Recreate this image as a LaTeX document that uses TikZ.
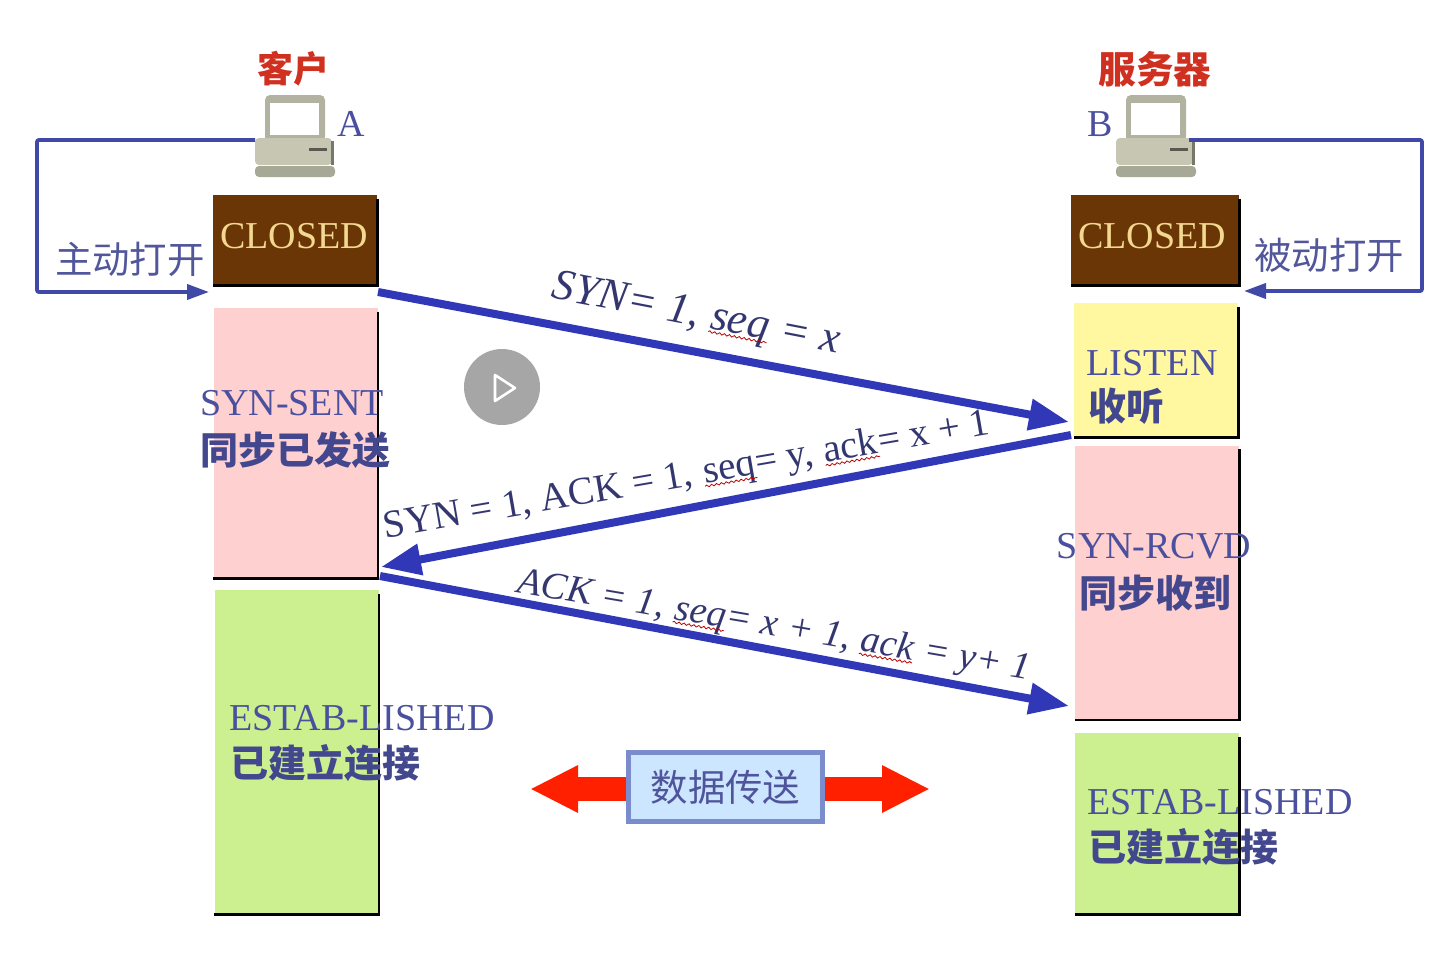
\documentclass[tikz,border=0pt]{standalone}
\usepackage{fontspec}
\usepackage{xcolor}
\usepackage{tikz}
\usetikzlibrary{arrows.meta, decorations.pathmorphing}
\setmainfont{Liberation Serif}
\newfontfamily\cjk{Noto Sans CJK SC}
\definecolor{labelblue}{HTML}{4A4F9E}
\definecolor{arrowblue}{HTML}{3038B8}
\definecolor{openblue}{HTML}{4048A8}
\definecolor{closedbrown}{HTML}{6B3606}
\definecolor{closedtext}{HTML}{F2D890}
\definecolor{pcgrey}{HTML}{C6C6B2}
\definecolor{syncpink}{HTML}{FFD0D0}
\definecolor{estabgreen}{HTML}{CCF090}
\definecolor{listenyellow}{HTML}{FFF8A0}
\definecolor{datafill}{HTML}{CCE6FF}
\definecolor{dataline}{HTML}{7A8CCC}
\definecolor{datared}{HTML}{FF2000}
\definecolor{rolered}{HTML}{D03020}
\newcommand{\squig}[1]{\tikz[baseline=(word.base)]{\node[inner sep=0pt] (word) {#1};
    \draw[red!75!black, line width=0.4pt, decorate, decoration={snake, amplitude=0.5pt, segment length=2.5pt}] ([yshift=-1.5pt]word.base west) -- ([yshift=-1.5pt]word.base east);}}
\tikzset{
    state-box/.style = {rectangle, inner sep=0pt, minimum width=82pt},
    closed-box/.style = {state-box, fill=closedbrown, minimum height=45pt, text=closedtext, font=\fontsize{19}{20}\selectfont},
    state-text/.style = {text=labelblue, inner sep=0pt, font=\fontsize{19}{20}\selectfont},
    state-cjk/.style = {text=labelblue!90!black, inner sep=0pt, font=\cjk\bfseries\fontsize{19}{20}\selectfont},
    open-text/.style = {text=labelblue!85!gray, inner sep=0pt, font=\cjk\fontsize{18.7}{20}\selectfont},
    role-text/.style = {text=rolered, inner sep=0pt, font=\cjk\bfseries\fontsize{18}{20}\selectfont},
    msg-text/.style = {text=labelblue!70!black, inner sep=0pt},
    msg-arrow/.style = {draw=arrowblue, line width=4pt, -{Triangle[length=20pt,width=15pt]}},
    open-arrow/.style = {draw=openblue, line width=1.9pt, rounded corners=1pt, -{Triangle[length=11pt,width=7.5pt]}},
    data-arrow/.style = {draw=datared, line width=12pt, -{Triangle[length=24pt,width=22pt]}},
    edge-line/.style = {draw=black, line width=1.2pt},
    computer/.pic = {
        \fill[pcgrey!90!black, rounded corners=2.5pt] (-30,-45) rectangle (30,2);
        \fill[white] (-25,-37) rectangle (24,-5);
        \fill[pcgrey, rounded corners=2pt] (-40,-2) rectangle (37,25);
        \fill[pcgrey!60!black] (36,1) rectangle (39,25);
        \fill[pcgrey!45!black] (14,8) rectangle (32,11);
        \fill[pcgrey!85!black, rounded corners=2pt] (-40,26) rectangle (40,37);
        \coordinate (-left) at (-40,0);
        \coordinate (-right) at (33,0);
    },
}
\begin{document}
\begin{tikzpicture}[x=0.5pt, y=-0.5pt]
\useasboundingbox (0,0) rectangle (1446,969);

\node[closed-box] (closedA) at (295,240) {};
\node[closed-box, minimum width=84pt] (closedB) at (1155,240) {};
\node[state-box, fill=syncpink, minimum height=135pt] (sent) at (295.5,443) {};
\node[state-box, fill=estabgreen, minimum height=162pt] (estabA) at (296.5,752) {};
\node[state-box, fill=listenyellow, minimum height=67pt] (listen) at (1156,370) {};
\node[state-box, fill=syncpink, minimum height=137pt] (rcvd) at (1157,582.5) {};
\node[state-box, fill=estabgreen, minimum height=90.5pt] (estabB) at (1157,823.5) {};

\foreach \statebox in {closedA, closedB, sent, estabA, listen, rcvd, estabB} {
    \draw[edge-line] ([yshift=-2pt]\statebox.north east) -- (\statebox.south east) -- (\statebox.south west);
}

\node[closed-box, fill=none, minimum width=0pt, minimum height=0pt] (closedtextA) at (294,236) {CLOSED};
\node[closed-box, fill=none, minimum width=0pt, minimum height=0pt] (closedtextB) at (1152,236) {CLOSED};

\pic (pcA) at (295,140) {computer};
\pic (pcB) at (1156,140) {computer};

\node[role-text] (client) at (293,69) {客户};
\node[role-text, font=\cjk\bfseries\fontsize{18.8}{20}\selectfont] (server) at (1155,69) {服务器};
\node[state-text] (nameA) at (351,124) {A};
\node[state-text] (nameB) at (1100,124) {B};

\coordinate (openA) at (209,292);
\coordinate (cornerA) at (37,140);
\coordinate (openB) at (1244,291);
\coordinate (cornerB) at (1422,140);
\draw[open-arrow] (pcA-left) -- (cornerA) |- (openA);
\draw[open-arrow] (pcB-right) -- (cornerB) |- (openB);
\node[open-text] (activeopen) at (130,259) {主动打开};
\node[open-text] (passiveopen) at (1329,255) {被动打开};

\node[state-text] (sentname) at (292,403) {SYN-SENT};
\node[state-cjk] (sentcjk) at (295,450) {同步已发送};
\node[state-text] (listenname) at (1152,363) {LISTEN};
\node[state-cjk] (listencjk) at (1126,406) {收听};
\node[state-text] (rcvdname) at (1154,546) {SYN-RCVD};
\node[state-cjk] (rcvdcjk) at (1155,593) {同步收到};
\node[state-text] (estabnameA) at (362,718) {ESTAB-LISHED};
\node[state-cjk] (estabcjkA) at (325,763) {已建立连接};
\node[state-text] (estabnameB) at (1220,802) {ESTAB-LISHED};
\node[state-cjk] (estabcjkB) at (1183,847) {已建立连接};

\coordinate (synstart) at (378,292);
\coordinate (synend) at (1069,422);
\coordinate (ackstart) at (1071,435);
\coordinate (ackend) at (381,567);
\coordinate (laststart) at (380,576);
\coordinate (lastend) at (1069,706);
\draw[msg-arrow] (synstart) -- (synend);
\draw[msg-arrow] (ackstart) -- (ackend);
\draw[msg-arrow] (laststart) -- (lastend);

\node[msg-text, rotate=-11, font=\fontsize{22}{24}\selectfont] (synmsg) at (696,316) {\textit{SYN= 1, \squig{seq} = x}};
\node[msg-text, rotate=9.8, font=\fontsize{19.6}{21}\selectfont] (ackmsg) at (687,477) {SYN = 1, ACK = 1, \squig{seq}= y, \squig{ack}= x + 1};
\node[msg-text, rotate=-9.7, font=\fontsize{19.2}{21}\selectfont] (lastmsg) at (774,627) {\textit{ACK = 1, \squig{seq}= x + 1, \squig{ack} = y+ 1}};

\node[circle, fill=gray!70, minimum size=38pt, inner sep=0pt] (play) at (502,387) {};
\draw[white, line width=1.3pt, line join=round] (495,375) -- (515,388) -- (495,401) -- cycle;

\coordinate (dataleft) at (530,789);
\coordinate (dataright) at (930,789);
\draw[data-arrow] (725,789) -- (dataleft);
\draw[data-arrow] (725,789) -- (dataright);
\node[draw=dataline, fill=datafill, line width=2.2pt, minimum width=97pt, minimum height=34.5pt, inner sep=0pt, text=labelblue!90!gray, font=\cjk\fontsize{18.7}{20}\selectfont] (transfer) at (725.5,787) {数据传送};
\end{tikzpicture}
\end{document}
